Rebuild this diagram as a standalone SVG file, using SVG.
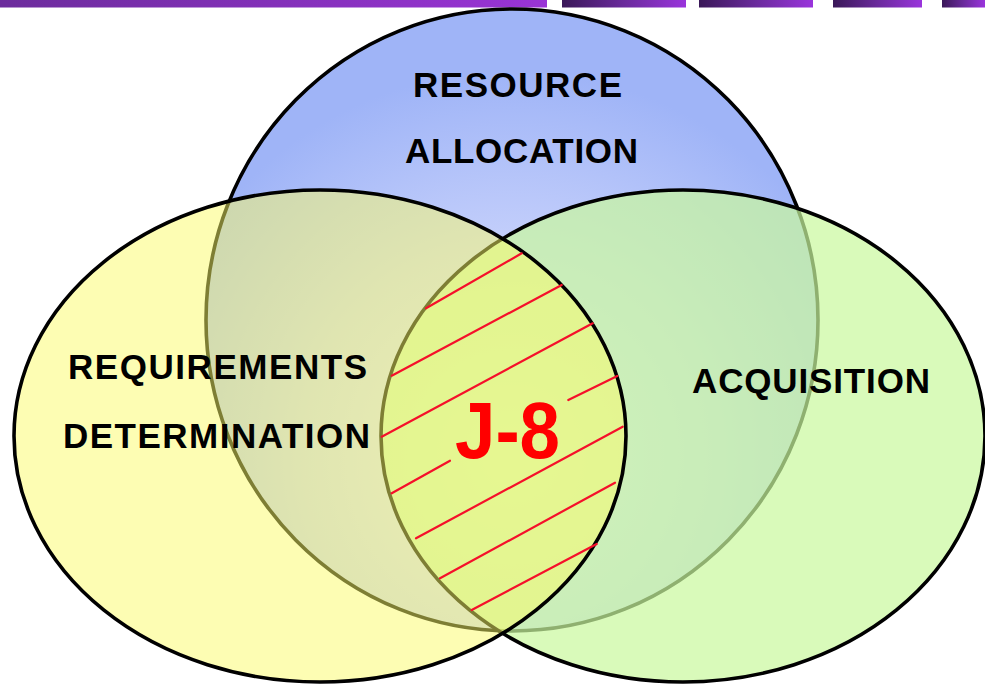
<svg xmlns="http://www.w3.org/2000/svg" width="985" height="684" viewBox="0 0 985 684">
<defs>
<linearGradient id="barMain" x1="0" y1="0" x2="1" y2="0">
<stop offset="0" stop-color="#6c2c9c"/>
<stop offset="1" stop-color="#9a34d6"/>
</linearGradient>
<linearGradient id="barSeg" x1="0" y1="0" x2="1" y2="0">
<stop offset="0" stop-color="#3a1858"/>
<stop offset="0.5" stop-color="#6a2a9c"/>
<stop offset="1" stop-color="#9a34dc"/>
</linearGradient>
<radialGradient id="blueGrad" cx="0.5" cy="0.72" r="0.62">
<stop offset="0" stop-color="#e2e7ff"/>
<stop offset="0.55" stop-color="#c4cffb"/>
<stop offset="1" stop-color="#9fb4f7"/>
</radialGradient>
<style>
.circ { stroke: #000; stroke-width: 3.6; }
.lbl { font-family: "Liberation Sans", Arial, sans-serif; font-weight: bold; font-size: 35px; fill: #000; text-anchor: middle; }
.hatch { stroke: #f5102a; stroke-width: 2.2; stroke-linecap: round; fill: none; }
</style>
</defs>
<g id="topbar">
<rect x="0" y="0" width="547" height="7.5" fill="url(#barMain)"/>
<rect x="562" y="0" width="124" height="7.5" fill="url(#barSeg)"/>
<rect x="699" y="0" width="114" height="7.5" fill="url(#barSeg)"/>
<rect x="833" y="0" width="89" height="7.5" fill="url(#barSeg)"/>
<rect x="942" y="0" width="43" height="7.5" fill="url(#barSeg)"/>
</g>
<g id="resource-allocation">
<ellipse class="circ" cx="512" cy="320" rx="306" ry="311" fill="url(#blueGrad)"/>
</g>
<g id="acquisition">
<ellipse class="circ" cx="683" cy="436" rx="302" ry="246" fill="#c9f89e" fill-opacity="0.71"/>
</g>
<g id="requirements-determination">
<ellipse class="circ" cx="320" cy="436" rx="306" ry="246" fill="#fbfb68" fill-opacity="0.5"/>
</g>
<g id="connectors">
<line class="hatch" x1="426" y1="308.3" x2="521.7" y2="253.3"/>
<line class="hatch" x1="391.7" y1="375.7" x2="561.7" y2="285"/>
<line class="hatch" x1="381.7" y1="436.7" x2="592.7" y2="323.3"/>
<line class="hatch" x1="568.3" y1="400" x2="617.3" y2="376"/>
<line class="hatch" x1="391.7" y1="493.3" x2="450" y2="460.7"/>
<line class="hatch" x1="416" y1="538.3" x2="622.7" y2="426.7"/>
<line class="hatch" x1="440" y1="578.3" x2="615" y2="482.7"/>
<line class="hatch" x1="471.7" y1="610" x2="596.7" y2="544"/>
</g>
<g id="labels">
<text class="lbl" x="517.5" y="97" textLength="209">RESOURCE</text>
<text class="lbl" x="521.5" y="163" textLength="233">ALLOCATION</text>
<text class="lbl" x="217.5" y="379" textLength="299">REQUIREMENTS</text>
<text class="lbl" x="216.5" y="448" textLength="307">DETERMINATION</text>
<text class="lbl" x="811" y="393" textLength="238">ACQUISITION</text>
</g>
<g id="j8">
<text x="507.5" y="458" font-family="'Liberation Sans', Arial, sans-serif" font-weight="bold" font-size="79" fill="#ff0000" text-anchor="middle" textLength="105" lengthAdjust="spacingAndGlyphs">J-8</text>
</g>
</svg>
